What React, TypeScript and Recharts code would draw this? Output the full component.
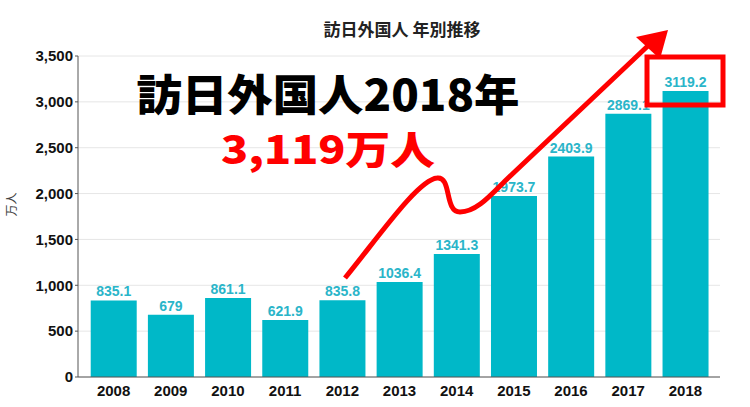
import React from 'react';
import { BarChart, Bar, XAxis, YAxis, CartesianGrid, LabelList } from 'recharts';

const years = ['2008', '2009', '2010', '2011', '2012', '2013', '2014', '2015', '2016', '2017', '2018'];
const visitors = [835.1, 679, 861.1, 621.9, 835.8, 1036.4, 1341.3, 1973.7, 2403.9, 2869.1, 3119.2];
const yTicks = [0, 500, 1000, 1500, 2000, 2500, 3000, 3500];

const data = years.map((year, i) => ({ year, value: visitors[i] }));

const sans = '"Liberation Sans", Arial, "Noto Sans CJK JP", sans-serif';
const cjk = '"Noto Sans CJK JP", sans-serif';

export default function App() {
  return (
    <div style={{ position: 'relative', width: 750, height: 407, background: '#fff' }}>
      <style>{`body{margin:0}`}</style>
      <BarChart
        width={750}
        height={407}
        data={data}
        margin={{ top: 56, right: 30, bottom: 0, left: 0 }}
        barCategoryGap="10%"
      >
        <CartesianGrid vertical={false} stroke="#e6e6e6" />
        <XAxis
          dataKey="year"
          height={30}
          padding={{ left: 7, right: 6 }}
          stroke="#555"
          tickLine={false}
          tick={{ fill: '#111', fontSize: 15, fontWeight: 'bold', fontFamily: sans }}
        />
        <YAxis
          width={78}
          domain={[0, 3500]}
          ticks={yTicks}
          stroke="#555"
          tickSize={3}
          tickFormatter={(v: number) => v.toLocaleString('en-US')}
          tick={{ fill: '#111', fontSize: 15, fontWeight: 'bold', fontFamily: sans }}
          label={{ value: '万人', angle: -90, position: 'insideLeft', offset: 12, fill: '#444', fontSize: 12, fontFamily: cjk }}
        />
        <Bar dataKey="value" fill="#00b8c8" isAnimationActive={false}>
          <LabelList
            dataKey="value"
            position="top"
            offset={4}
            fill="#2ab5c9"
            fontSize={14}
            fontWeight="bold"
            fontFamily={sans}
          />
        </Bar>
      </BarChart>
      <svg width={750} height={407} style={{ position: 'absolute', left: 0, top: 0, pointerEvents: 'none' }}>
        <text x={402} y={36} textAnchor="middle" fontSize={17} fontWeight="bold" fill="#222" fontFamily={cjk}>
          訪日外国人 年別推移
        </text>
        <text x={328} y={111} textAnchor="middle" fontSize={43} fontWeight={900} fill="#000" fontFamily={cjk} textLength={383} lengthAdjust="spacingAndGlyphs">
          訪日外国人2018年
        </text>
        <text x={328} y={164} textAnchor="middle" fontSize={39} fontWeight={900} fill="#ff0000" fontFamily={cjk} textLength={214} lengthAdjust="spacingAndGlyphs">
          3,119万人
        </text>
        <path
          d="M345,278 C380,235 418,180 437,178 C452,176 444,212 460,212 C476,212 490,196 505,181 L652,42"
          fill="none"
          stroke="#ff0000"
          strokeWidth={5}
        />
        <polygon points="668,30 636,37 660,59" fill="#ff0000" />
        <rect x={647} y={57} width={76} height={48} fill="none" stroke="#ff0000" strokeWidth={5} />
      </svg>
    </div>
  );
}
